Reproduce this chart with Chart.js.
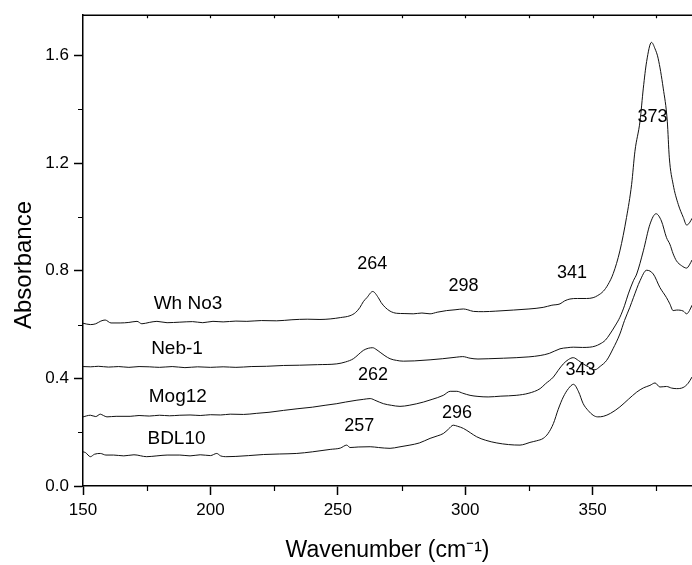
<!DOCTYPE html>
<html>
<head>
<meta charset="utf-8">
<title>Absorbance spectra</title>
<script src="https://cdn.jsdelivr.net/npm/chart.js@4.4.1/dist/chart.umd.min.js"></script>
<style>
  html, body { margin: 0; padding: 0; background: #fff; }
  canvas { display: block; }
</style>
</head>
<body>
<canvas id="spectra" width="692" height="565"></canvas>
<script>
// UV absorbance spectra of four samples, offset vertically

// Wh No3
const whX = [150, 152.9, 155, 157, 158.7, 161, 164.6, 168, 171.2, 173.1, 176, 179, 183, 188, 193, 197, 201, 205, 210, 214.3,
  220, 226, 232, 238, 243, 247, 251, 254.8, 257, 258.7, 260, 261.4, 263.7, 265.9, 267, 268.6, 270.5, 273.1, 276, 279.6,
  283, 286.2, 289, 292.7, 296, 299.3, 301, 303.2, 307.1, 312, 318.9, 325, 330.6, 334, 337.2, 339, 341.1, 344, 347.6, 350.2,
  352, 354.2, 356, 358.1, 360.7, 363.3, 365.3, 366.6, 368.6, 369.9, 371.2, 373.1, 374.5, 375.7, 377.7, 379.3, 380.1,
  381.6, 383.6, 385.6, 386.9, 388, 389];
const whY = [0.605, 0.600, 0.603, 0.613, 0.617, 0.606, 0.606, 0.608, 0.612, 0.603, 0.608, 0.612, 0.607, 0.609, 0.611, 0.607, 0.612, 0.610, 0.613, 0.612,
  0.615, 0.614, 0.618, 0.620, 0.619, 0.621, 0.626, 0.633, 0.645, 0.664, 0.685, 0.700, 0.723, 0.700, 0.682, 0.664, 0.650, 0.642, 0.641, 0.640,
  0.643, 0.640, 0.646, 0.652, 0.655, 0.658, 0.655, 0.649, 0.648, 0.650, 0.654, 0.658, 0.664, 0.672, 0.677, 0.688, 0.695, 0.697, 0.697, 0.700,
  0.708, 0.724, 0.748, 0.790, 0.874, 0.998, 1.121, 1.244, 1.356, 1.479, 1.578, 1.649, 1.625, 1.590, 1.479, 1.356, 1.220,
  1.121, 1.047, 0.998, 0.970, 0.978, 0.995];

// Neb-1
const nebX = [150, 153, 156, 160, 164, 168, 172, 176, 180, 185, 190, 195, 200, 205, 210, 216, 222, 228.7, 235, 242,
  249.6, 253, 256.1, 258, 260, 262, 263.7, 265, 266.6, 268.5, 270.5, 273, 275.7, 280, 286.2, 291, 296.7, 299, 301.9, 305,
  309, 315, 320, 325, 329.4, 333, 337.2, 340, 342.4, 346, 348.9, 351, 352.9, 355, 356.8, 358.8, 360.7, 362.5, 364, 366,
  367.3, 369.9, 372.5, 374.9, 377, 379, 380.3, 381.6, 382.9, 384.9, 386.9, 388, 389];
const nebY = [0.444, 0.443, 0.445, 0.442, 0.444, 0.441, 0.444, 0.443, 0.441, 0.444, 0.440, 0.443, 0.441, 0.443, 0.441, 0.444, 0.445, 0.448, 0.449, 0.451,
  0.454, 0.461, 0.473, 0.488, 0.504, 0.512, 0.514, 0.508, 0.497, 0.484, 0.473, 0.467, 0.464, 0.465, 0.469, 0.473, 0.479, 0.481, 0.475, 0.472,
  0.473, 0.475, 0.477, 0.480, 0.485, 0.493, 0.510, 0.514, 0.516, 0.515, 0.516, 0.520, 0.528, 0.542, 0.565, 0.595, 0.627, 0.670, 0.714, 0.763,
  0.788, 0.874, 0.973, 1.012, 0.985, 0.923, 0.899, 0.863, 0.837, 0.819, 0.810, 0.822, 0.840];

// Mog12
const mogX = [150, 152.9, 155, 156.8, 158, 159.4, 163, 168.5, 172, 176, 180, 184, 188, 192, 196, 200, 204, 207.8, 213, 218,
  223, 228.7, 234, 240, 245, 249.6, 253, 257.5, 260, 262.7, 265, 267.9, 271, 274.4, 278, 283.6, 287, 291.4, 294.1, 296.7,
  299, 301.9, 305, 309, 314, 320, 325, 329.4, 331.5, 334.6, 336.5, 338.5, 340.5, 342.4, 344.5, 346.3, 348.5, 350.9, 353, 355.5,
  358, 360.7, 362.5, 364.6, 366, 368.6, 371.2, 373.8, 376.4, 379, 380.3, 381.6, 383, 385.6, 386.9, 388, 389];
const mogY = [0.257, 0.263, 0.258, 0.267, 0.262, 0.257, 0.259, 0.259, 0.262, 0.260, 0.263, 0.261, 0.263, 0.264, 0.262, 0.265, 0.264, 0.267, 0.266, 0.270,
  0.274, 0.281, 0.287, 0.293, 0.300, 0.306, 0.312, 0.319, 0.322, 0.325, 0.317, 0.306, 0.300, 0.296, 0.300, 0.312, 0.322, 0.337, 0.352, 0.352,
  0.345, 0.337, 0.333, 0.331, 0.334, 0.337, 0.345, 0.362, 0.380, 0.405, 0.430, 0.454, 0.470, 0.477, 0.466, 0.454, 0.442, 0.432, 0.445, 0.467,
  0.510, 0.565, 0.615, 0.664, 0.700, 0.763, 0.802, 0.788, 0.738, 0.700, 0.677, 0.652, 0.654, 0.650, 0.640, 0.652, 0.672];

// BDL10
const bdlX = [150, 151, 152.9, 154.5, 156.8, 159, 162, 166, 170, 175, 179, 183, 188, 192, 196, 200, 202.5, 204, 206.5, 210,
  215, 220.8, 227, 233.9, 240, 247, 251, 253.5, 254.8, 258, 262.7, 266, 270.5, 274, 278.3, 282, 286.2, 289, 291.4, 293.5,
  295.3, 297, 299.3, 302, 304.5, 308, 312.4, 317, 321.5, 323.5, 325.4, 328, 330.6, 332.5, 334.6, 336.5, 338.5, 340.5, 342.5, 344.5,
  346.3, 348.3, 350.2, 352, 354.2, 357, 360.7, 364, 367.3, 370, 372.5, 374.5, 376.4, 379, 381, 382.9, 385.5, 387.5, 389];
const bdlY = [0.127, 0.124, 0.109, 0.118, 0.121, 0.115, 0.115, 0.112, 0.116, 0.109, 0.112, 0.115, 0.115, 0.112, 0.116, 0.113, 0.121, 0.112, 0.109, 0.110,
  0.113, 0.117, 0.119, 0.121, 0.127, 0.136, 0.141, 0.152, 0.143, 0.145, 0.146, 0.143, 0.140, 0.145, 0.152, 0.160, 0.177, 0.186, 0.195, 0.212,
  0.226, 0.222, 0.214, 0.198, 0.183, 0.170, 0.160, 0.154, 0.152, 0.156, 0.162, 0.168, 0.177, 0.195, 0.232, 0.285, 0.331, 0.362, 0.378, 0.350,
  0.306, 0.280, 0.263, 0.257, 0.259, 0.270, 0.294, 0.322, 0.349, 0.365, 0.374, 0.383, 0.368, 0.370, 0.364, 0.362, 0.366, 0.382, 0.405];

// sample names and peak positions written on the plot (text, wavenumber, absorbance)
const nameText = ['Wh No3', 'Neb-1', 'Mog12', 'BDL10'];
const nameX = [191.2, 186.9, 187.2, 186.7];
const nameY = [0.678, 0.511, 0.330, 0.174];
const peakText = ['264', '298', '341', '373', '262', '296', '257', '343'];
const peakX = [263.5, 299.3, 341.9, 373.5, 263.8, 296.8, 258.4, 345.2];
const peakY = [0.825, 0.744, 0.790, 1.370, 0.411, 0.272, 0.222, 0.430];

// axis ticks
const minorX = [175, 225, 275, 325, 375];
const topTickX = [175, 200, 225, 250, 275, 300, 325, 350, 375];
const minorY = [0.2, 0.6, 1.0, 1.4];

const FONT = "'Liberation Sans', Arial, Helvetica, sans-serif";
Chart.defaults.font.family = FONT;
Chart.defaults.color = '#000';

function toPoints(xs, ys) {
  return xs.map((x, i) => ({ x: x, y: ys[i] }));
}

function lineSet(label, xs, ys) {
  return {
    label: label,
    data: toPoints(xs, ys),
    borderColor: '#111',
    borderWidth: 1,
    pointRadius: 0,
    fill: false,
    cubicInterpolationMode: 'monotone'
  };
}

// top frame line, minor ticks, y title and the text annotations
const decorPlugin = {
  id: 'decor',
  afterDraw(chart) {
    const ctx = chart.ctx;
    const a = chart.chartArea;
    const xs = chart.scales.x;
    const ys = chart.scales.y;
    ctx.save();
    ctx.strokeStyle = '#000';
    ctx.lineWidth = 1.5;
    ctx.beginPath();
    ctx.moveTo(a.left, a.top);
    ctx.lineTo(a.right, a.top);
    ctx.stroke();

    ctx.lineWidth = 1.2;
    ctx.beginPath();
    minorX.forEach(v => {
      const px = Math.round(xs.getPixelForValue(v)) + 0.5;
      ctx.moveTo(px, a.bottom);
      ctx.lineTo(px, a.bottom + 5);
    });
    topTickX.forEach(v => {
      const px = Math.round(xs.getPixelForValue(v)) + 0.5;
      ctx.moveTo(px, a.top);
      ctx.lineTo(px, a.top + 3);
    });
    minorY.forEach(v => {
      const py = Math.round(ys.getPixelForValue(v)) + 0.5;
      ctx.moveTo(a.left, py);
      ctx.lineTo(a.left - 5, py);
    });
    ctx.stroke();

    ctx.fillStyle = '#000';
    ctx.textAlign = 'center';
    ctx.textBaseline = 'middle';

    // y axis title, rotated
    ctx.save();
    ctx.translate(24, 265);
    ctx.rotate(-Math.PI / 2);
    ctx.font = '24px ' + FONT;
    ctx.fillText('Absorbance', 0, 0);
    ctx.restore();

    ctx.font = '19px ' + FONT;
    nameText.forEach((t, i) => {
      ctx.fillText(t, xs.getPixelForValue(nameX[i]), ys.getPixelForValue(nameY[i]));
    });
    ctx.font = '18px ' + FONT;
    peakText.forEach((t, i) => {
      ctx.fillText(t, xs.getPixelForValue(peakX[i]), ys.getPixelForValue(peakY[i]));
    });
    ctx.restore();
  }
};

new Chart(document.getElementById('spectra'), {
  type: 'line',
  data: {
    datasets: [
      lineSet('Wh No3', whX, whY),
      lineSet('Neb-1', nebX, nebY),
      lineSet('Mog12', mogX, mogY),
      lineSet('BDL10', bdlX, bdlY)
    ]
  },
  options: {
    responsive: false,
    animation: false,
    events: [],
    layout: { padding: { top: 12, right: 0, bottom: 0, left: 0 } },
    plugins: {
      legend: { display: false },
      tooltip: { enabled: false }
    },
    scales: {
      x: {
        type: 'linear',
        min: 150,
        max: 389,
        afterBuildTicks: s => { s.ticks = s.ticks.filter(t => t.value % 50 === 0); },
        afterFit: s => { s.height = 79; },
        ticks: { stepSize: 50, font: { size: 17 }, padding: 5, maxRotation: 0, color: '#000' },
        grid: { drawOnChartArea: false, tickLength: 9, tickColor: '#000', tickWidth: 1.5 },
        border: { color: '#000', width: 1.5 },
        title: {
          display: true,
          text: 'Wavenumber (cm\u207B\u00B9)',
          font: { size: 23 },
          color: '#000',
          padding: { top: 0, bottom: 1 }
        }
      },
      y: {
        type: 'linear',
        min: 0,
        max: 1.75,
        afterBuildTicks: s => { s.ticks = s.ticks.filter(t => Math.abs(t.value * 10 % 4) < 1e-6 || Math.abs(t.value * 10 % 4 - 4) < 1e-6); },
        afterFit: s => { s.width = 83; },
        ticks: {
          stepSize: 0.4,
          font: { size: 17 },
          padding: 5,
          color: '#000',
          callback: v => v.toFixed(1)
        },
        grid: { drawOnChartArea: false, tickLength: 9, tickColor: '#000', tickWidth: 1.5 },
        border: { color: '#000', width: 1.5 }
      }
    }
  },
  plugins: [decorPlugin]
});
</script>
</body>
</html>
